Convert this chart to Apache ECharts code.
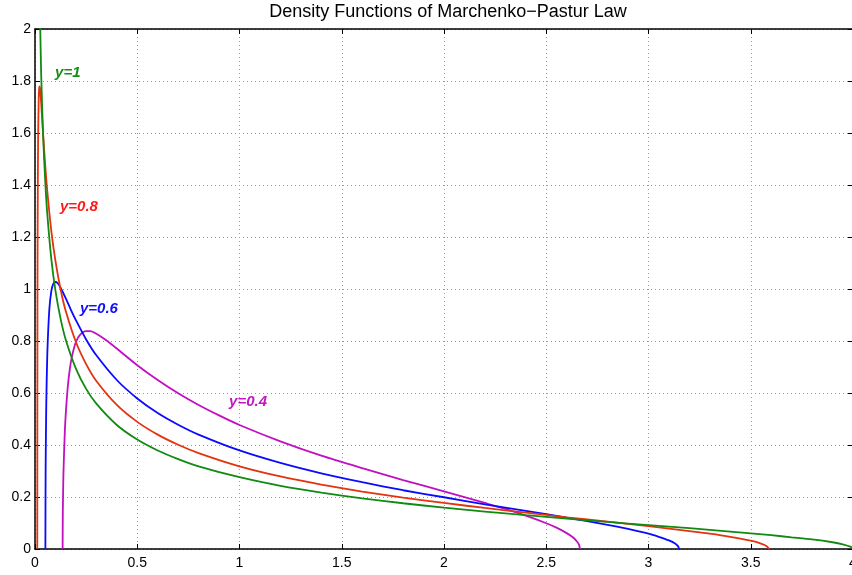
<!DOCTYPE html>
<html>
<head>
<meta charset="utf-8">
<script src="https://cdn.jsdelivr.net/npm/echarts@6/dist/echarts.min.js"></script>
<style>
html, body { margin: 0; padding: 0; background: #fff; }
#main { width: 852px; height: 575px; }
</style>
</head>
<body>
<div id="main"></div>
<script>
// 读图得到的密度曲线 [x, 密度]
var curveY1 = [
    [0.02, 2.245], [0.03, 1.831], [0.04, 1.584], [0.05, 1.415], [0.06, 1.290], [0.08, 1.114],
    [0.1, 0.994], [0.125, 0.886], [0.15, 0.806], [0.2, 0.694], [0.25, 0.616], [0.3, 0.559],
    [0.4, 0.477], [0.5, 0.421], [0.6, 0.379], [0.7, 0.346], [0.8, 0.318], [1.0, 0.276],
    [1.2, 0.243], [1.4, 0.217], [1.6, 0.195], [1.8, 0.176], [2.0, 0.159], [2.2, 0.144],
    [2.4, 0.130], [2.6, 0.117], [2.8, 0.104], [3.0, 0.092], [3.2, 0.080], [3.4, 0.067],
    [3.6, 0.053], [3.7, 0.045], [3.8, 0.037], [3.9, 0.026], [3.95, 0.018], [3.99, 0.008], [4.0, 0]
];
var curveY08 = [
    [0.01115, 0], [0.012, 0.914], [0.013, 1.245], [0.015, 1.556], [0.018, 1.729], [0.02, 1.768],
    [0.022, 1.779], [0.025, 1.768], [0.03, 1.718], [0.04, 1.591], [0.05, 1.475], [0.06, 1.377],
    [0.08, 1.222], [0.1, 1.108], [0.125, 0.999], [0.15, 0.916], [0.2, 0.796], [0.25, 0.711],
    [0.3, 0.646], [0.4, 0.554], [0.5, 0.489], [0.6, 0.440], [0.7, 0.401], [0.8, 0.369],
    [1.0, 0.318], [1.2, 0.279], [1.4, 0.248], [1.6, 0.221], [1.8, 0.198], [2.0, 0.177],
    [2.2, 0.158], [2.4, 0.140], [2.6, 0.122], [2.8, 0.105], [3.0, 0.088], [3.2, 0.069],
    [3.3, 0.059], [3.4, 0.047], [3.5, 0.032], [3.55, 0.021], [3.58, 0.010], [3.5889, 0]
];
var curveY06 = [
    [0.0508, 0], [0.052, 0.310], [0.055, 0.549], [0.06, 0.745], [0.07, 0.921], [0.08, 0.993],
    [0.09, 1.021], [0.1, 1.027], [0.11, 1.023], [0.125, 1.005], [0.15, 0.965], [0.175, 0.921],
    [0.2, 0.880], [0.25, 0.806], [0.3, 0.745], [0.4, 0.650], [0.5, 0.579], [0.6, 0.523],
    [0.7, 0.478], [0.8, 0.440], [1.0, 0.379], [1.2, 0.331], [1.4, 0.291], [1.6, 0.257],
    [1.8, 0.226], [2.0, 0.199], [2.2, 0.172], [2.4, 0.147], [2.6, 0.121], [2.8, 0.093],
    [2.9, 0.077], [3.0, 0.059], [3.05, 0.047], [3.1, 0.033], [3.13, 0.021], [3.145, 0.010], [3.1492, 0]
];
var curveY04 = [
    [0.1351, 0], [0.136, 0.140], [0.138, 0.247], [0.14, 0.316], [0.145, 0.434], [0.15, 0.514],
    [0.16, 0.621], [0.17, 0.691], [0.18, 0.738], [0.2, 0.796], [0.22, 0.824], [0.25, 0.838],
    [0.27, 0.838], [0.3, 0.828], [0.35, 0.802], [0.4, 0.771], [0.5, 0.707], [0.6, 0.650],
    [0.7, 0.599], [0.8, 0.554], [0.9, 0.514], [1.0, 0.477], [1.2, 0.414], [1.4, 0.359],
    [1.6, 0.311], [1.8, 0.265], [2.0, 0.222], [2.2, 0.177], [2.3, 0.154], [2.4, 0.128],
    [2.5, 0.099], [2.55, 0.082], [2.6, 0.061], [2.63, 0.045], [2.65, 0.029], [2.66, 0.017], [2.6649, 0]
];

var seriesNames = ['y=1', 'y=0.8', 'y=0.6', 'y=0.4'];
var seriesData = [curveY1, curveY08, curveY06, curveY04];
var lineColors = ['#118a11', '#e3330f', '#0a0aff', '#c010c0'];
var textColors = ['#168c16', '#ff1a1a', '#1010ff', '#c414c4'];
// 标注位置(数据坐标)
var labelAt = [[0.098, 1.83], [0.122, 1.315], [0.22, 0.923], [0.949, 0.565]];

var titleText = 'Density Functions of Marchenko\u2212Pastur Law';

var myChart = echarts.init(document.getElementById('main'), null, { renderer: 'canvas' });

var gridLine = { show: true, lineStyle: { color: '#9a9a9a', type: [1, 3], width: 1 } };
var frameLine = { show: true, onZero: false, lineStyle: { color: '#000', width: 1.5 } };
var labelFont = { color: '#000', fontSize: 14, fontFamily: 'Liberation Sans, Arial, sans-serif' };

var series = [];
for (var i = 0; i < seriesData.length; i++) {
    series.push({
        name: seriesNames[i],
        type: 'line',
        data: seriesData[i],
        showSymbol: false,
        symbol: 'none',
        smooth: 0.25,
        clip: true,
        lineStyle: { color: lineColors[i], width: 1.8 },
        z: 10 - i
    });
}

var option = {
    animation: false,
    backgroundColor: '#fff',
    title: {
        text: titleText,
        left: 443,
        textAlign: 'center',
        top: -2,
        textStyle: { fontSize: 18, fontWeight: 'normal', color: '#000', fontFamily: 'Liberation Sans, Arial, sans-serif' }
    },
    grid: { left: 35, top: 29, width: 818, height: 520, outerBoundsMode: 'none', containLabel: false },
    xAxis: [{
        type: 'value', min: 0, max: 4, interval: 0.5, position: 'bottom',
        axisLine: frameLine,
        axisTick: { show: true, inside: true, length: 5, lineStyle: { color: '#000' } },
        axisLabel: Object.assign({ margin: 7, hideOverlap: false }, labelFont),
        splitLine: gridLine
    }, {
        type: 'value', min: 0, max: 4, interval: 0.5, position: 'top',
        axisLine: frameLine,
        axisTick: { show: true, inside: true, length: 5, lineStyle: { color: '#000' } },
        axisLabel: { show: false },
        splitLine: { show: false }
    }],
    yAxis: [{
        type: 'value', min: 0, max: 2, interval: 0.2, position: 'left',
        axisLine: frameLine,
        axisTick: { show: true, inside: true, length: 5, lineStyle: { color: '#000' } },
        axisLabel: Object.assign({ margin: 4, formatter: function (v) { return +v.toFixed(1) + ''; } }, labelFont),
        splitLine: gridLine
    }, {
        type: 'value', min: 0, max: 2, interval: 0.2, position: 'right',
        axisLine: frameLine,
        axisTick: { show: true, inside: true, length: 5, lineStyle: { color: '#000' } },
        axisLabel: { show: false },
        splitLine: { show: false }
    }],
    series: series
};

myChart.setOption(option);

// 曲线标注
var texts = [];
for (var k = 0; k < seriesNames.length; k++) {
    var p = myChart.convertToPixel({ xAxisIndex: 0, yAxisIndex: 0 }, labelAt[k]);
    texts.push({
        type: 'text',
        x: p[0], y: p[1],
        z: 100,
        style: {
            text: seriesNames[k],
            fill: textColors[k],
            font: 'italic bold 15px "Liberation Sans", Arial, sans-serif',
            textVerticalAlign: 'middle',
            verticalAlign: 'middle'
        }
    });
}
myChart.setOption({ graphic: texts });
</script>
</body>
</html>
